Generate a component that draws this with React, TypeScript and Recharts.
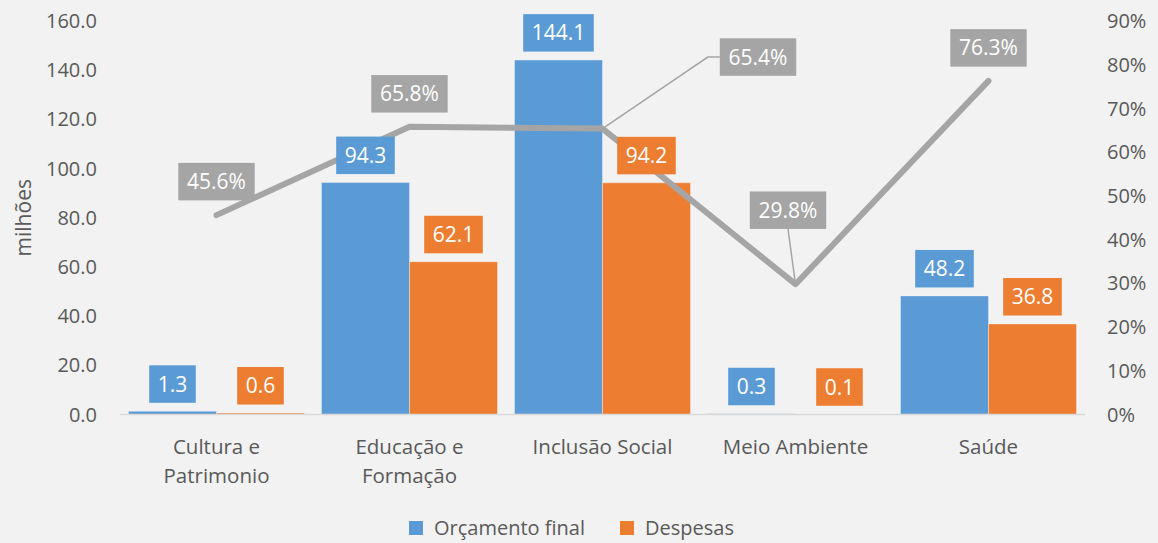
import { Bar, ComposedChart, LabelList, Line, XAxis, YAxis } from 'recharts';

const categories = ['Cultura e Patrimonio', 'Educação e Formação', 'Inclusão Social', 'Meio Ambiente', 'Saúde'];
const orcamentoFinal = [1.3, 94.3, 144.1, 0.3, 48.2];
const despesas = [0.6, 62.1, 94.2, 0.1, 36.8];
const execucao = [45.6, 65.8, 65.4, 29.8, 76.3];
const leftTicks = [0, 20, 40, 60, 80, 100, 120, 140, 160];
const rightTicks = [0, 10, 20, 30, 40, 50, 60, 70, 80, 90];

const data = categories.map((name, i) => ({
  name,
  orcamento: orcamentoFinal[i],
  despesas: despesas[i],
  execucao: execucao[i],
}));

const BLUE = '#5B9BD5';
const ORANGE = '#ED7D31';
const GRAY = '#A5A5A5';
const TEXT = '#595959';
const FONT = '"Open Sans", "Noto Sans", sans-serif';

// % labels were dragged around by hand in the original, so keep their offsets here
const pctLabelOffsets = [
  { dx: 0, dy: -33.5, leader: '' },
  { dx: 0, dy: -33, leader: '' },
  { dx: 155.5, dy: -71.5, leader: 'elbow' },
  { dx: -7.5, dy: -74, leader: 'straight' },
  { dx: 0, dy: -33, leader: '' },
];

const BOX_H = 37.5;

function textWidth(s: string) {
  let w = 0;
  for (const c of s) w += c === '.' ? 5.6 : c === '%' ? 17.8 : 12;
  return w;
}

function ValueBox({ cx, cy, text, fill }: { cx: number; cy: number; text: string; fill: string }) {
  const w = textWidth(text) + 17;
  return (
    <g>
      <rect x={cx - w / 2} y={cy - BOX_H / 2} width={w} height={BOX_H} fill={fill} />
      <text x={cx} y={cy} dy="0.36em" textAnchor="middle" fill="#FFFFFF" fontSize={21}>
        {text}
      </text>
    </g>
  );
}

function barLabel(fill: string) {
  return (props: any) => {
    const { x, y, width, value } = props;
    const cx = Number(x) + Number(width) / 2;
    const cy = Number(y) - 8.5 - BOX_H / 2;
    return <ValueBox cx={cx} cy={cy} text={Number(value).toFixed(1)} fill={fill} />;
  };
}

function pctLabel(props: any) {
  const px = Number(props.x ?? props.viewBox?.x);
  const py = Number(props.y ?? props.viewBox?.y);
  const off = pctLabelOffsets[props.index] || { dx: 0, dy: -33, leader: '' };
  const text = `${Number(props.value).toFixed(1)}%`;
  const cx = px + off.dx;
  const cy = py + off.dy;
  const w = textWidth(text) + 17;
  let leader = null;
  if (off.leader === 'elbow') {
    const left = cx - w / 2;
    leader = <polyline points={`${px},${py} ${left - 12},${cy} ${left},${cy}`} fill="none" stroke={GRAY} strokeWidth={1.5} />;
  } else if (off.leader === 'straight') {
    leader = <line x1={cx} y1={cy + BOX_H / 2} x2={px} y2={py} stroke={GRAY} strokeWidth={1.5} />;
  }
  return (
    <g>
      {leader}
      <ValueBox cx={cx} cy={cy} text={text} fill={GRAY} />
    </g>
  );
}

function wrapLabel(s: string, maxChars: number) {
  const lines: string[] = [];
  let cur = '';
  for (const word of s.split(' ')) {
    const next = cur ? `${cur} ${word}` : word;
    if (next.length > maxChars && cur) {
      lines.push(cur);
      cur = word;
    } else {
      cur = next;
    }
  }
  if (cur) lines.push(cur);
  return lines;
}

function CategoryTick({ x, y, payload }: any) {
  const lines = wrapLabel(String(payload.value), 15);
  return (
    <text x={x} y={y} textAnchor="middle" fill={TEXT} fontSize={20.5}>
      {lines.map((l, i) => (
        <tspan key={i} x={x} dy={i === 0 ? 39.5 : 29}>
          {l}
        </tspan>
      ))}
    </text>
  );
}

function AxisTitle({ viewBox }: any) {
  const x = viewBox.x + 23;
  const y = viewBox.y + viewBox.height / 2;
  return (
    <text x={x} y={y} transform={`rotate(-90, ${x}, ${y})`} textAnchor="middle" dy="0.36em" fill={TEXT} fontSize={21}>
      milhões
    </text>
  );
}

const tick = { fill: TEXT, fontSize: 20 };

export default function App() {
  return (
    <div
      style={{
        position: 'absolute',
        left: 0,
        top: 0,
        width: 1158,
        height: 543,
        background: '#F2F2F2',
        fontFamily: FONT,
      }}
    >
      <ComposedChart
        width={1158}
        height={543}
        data={data}
        margin={{ top: 21, right: 0, bottom: 98.5, left: 0 }}
        barCategoryGap="4.4%"
        barGap={0}
      >
        <XAxis
          dataKey="name"
          tick={<CategoryTick />}
          tickLine={false}
          tickSize={0}
          tickMargin={0}
          axisLine={{ stroke: '#D9D9D9', strokeWidth: 1.5 }}
          interval={0}
        />
        <XAxis xAxisId="overlay" dataKey="name" hide />
        <YAxis
          yAxisId="left"
          width={120}
          domain={[0, 160]}
          ticks={leftTicks}
          tickFormatter={(v: number) => v.toFixed(1)}
          tick={tick}
          axisLine={false}
          tickLine={false}
          tickSize={0}
          tickMargin={23}
          label={{ content: AxisTitle }}
        />
        <YAxis
          yAxisId="right"
          orientation="right"
          width={73}
          domain={[0, 90]}
          ticks={rightTicks}
          tickFormatter={(v: number) => `${v}%`}
          tick={tick}
          axisLine={false}
          tickLine={false}
          tickSize={0}
          tickMargin={22}
        />
        <Bar
          yAxisId="left"
          dataKey="orcamento"
          name="Orçamento final"
          fill={BLUE}
          stroke="rgba(255,255,255,0.35)"
          strokeWidth={1}
          isAnimationActive={false}
        />
        <Bar
          yAxisId="left"
          dataKey="despesas"
          name="Despesas"
          fill={ORANGE}
          stroke="rgba(255,255,255,0.35)"
          strokeWidth={1}
          isAnimationActive={false}
        />
        <Line
          yAxisId="right"
          dataKey="execucao"
          type="linear"
          stroke={GRAY}
          strokeWidth={6}
          strokeLinecap="round"
          strokeLinejoin="round"
          dot={false}
          activeDot={false}
          isAnimationActive={false}
        />
        {/* invisible copies on a hidden axis so the value boxes sit above the line */}
        <Bar xAxisId="overlay" yAxisId="left" dataKey="orcamento" fill="none" isAnimationActive={false}>
          <LabelList dataKey="orcamento" content={barLabel(BLUE)} />
        </Bar>
        <Bar xAxisId="overlay" yAxisId="left" dataKey="despesas" fill="none" isAnimationActive={false}>
          <LabelList dataKey="despesas" content={barLabel(ORANGE)} />
        </Bar>
        <Line
          yAxisId="right"
          dataKey="execucao"
          stroke="none"
          dot={false}
          activeDot={false}
          isAnimationActive={false}
        >
          <LabelList dataKey="execucao" content={pctLabel} />
        </Line>
      </ComposedChart>
      <div
        style={{
          position: 'absolute',
          left: 409,
          top: 514,
          display: 'flex',
          alignItems: 'center',
          fontSize: 20,
          lineHeight: '28px',
          color: TEXT,
          whiteSpace: 'nowrap',
        }}
      >
        <span style={{ width: 14, height: 14, background: BLUE, marginRight: 11, display: 'inline-block' }} />
        <span style={{ width: 157, display: 'inline-block' }}>Orçamento final</span>
        <span style={{ width: 14, height: 14, background: ORANGE, marginLeft: 29, marginRight: 11, display: 'inline-block' }} />
        <span>Despesas</span>
      </div>
    </div>
  );
}
